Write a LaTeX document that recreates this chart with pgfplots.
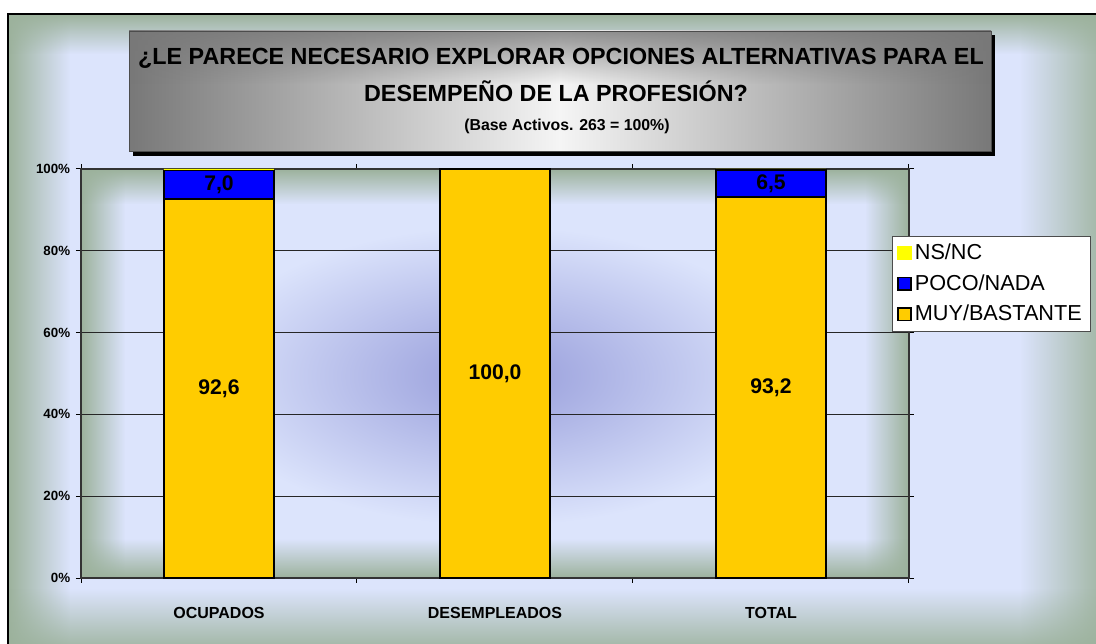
\documentclass[border=0pt]{standalone}
\usepackage{pgfplots}
\pgfplotsset{compat=1.18}
\usepackage{fontspec}
\setmainfont{Liberation Sans}
\usetikzlibrary{fadings}

\definecolor{bgblue}{RGB}{220,228,252}
\definecolor{edgegreen}{RGB}{156,178,156}
\definecolor{cblue}{RGB}{150,156,218}
\definecolor{myyellow}{RGB}{255,204,0}
\definecolor{nsnc}{RGB}{255,255,0}
\definecolor{tgray}{RGB}{120,120,120}

\begin{document}
\begin{tikzpicture}[x=0.6pt,y=0.6pt]
\path[use as bounding box] (0,0) rectangle (1096,644);
% ---------- outer panel ----------
\begin{scope}
\clip (0,0) rectangle (1096,644);
\fill[bgblue] (8,-10) rectangle (1110,630);
\fill[edgegreen, path fading=east] (8,-10) rectangle (70,630);
\fill[edgegreen, path fading=west] (1020,-10) rectangle (1110,630);
\fill[edgegreen, path fading=south] (8,590) rectangle (1110,630);
\fill[edgegreen, path fading=north] (8,-10) rectangle (1110,55);
\draw[black, line width=1.2pt] (8,-10) rectangle (1110,630);
\end{scope}
% ---------- title box ----------
\fill[black] (133,488) rectangle (995,609);
\shade[left color=tgray, right color=tgray, middle color=white!92!gray] (129,493) rectangle (991,613);
\fill[tgray, path fading=south, opacity=0.8] (129,560) rectangle (991,613);
\draw[black!70, line width=0.5pt] (129,493) rectangle (991,613);
\node[anchor=base, font=\bfseries\fontsize{14}{16}\selectfont] at (561,579) {¿LE PARECE NECESARIO EXPLORAR OPCIONES ALTERNATIVAS PARA EL};
\node[anchor=base, font=\bfseries\fontsize{14}{16}\selectfont] at (556,542) {DESEMPEÑO DE LA PROFESIÓN?};
\node[anchor=base, font=\bfseries\fontsize{9.5}{11}\selectfont] at (567,513) {(Base Activos. 263 = 100\%)};
% ---------- plot area background ----------
\begin{scope}
\clip (81,66) rectangle (909,475);
\fill[bgblue] (81,66) rectangle (909,475);
\shade[inner color=cblue, outer color=bgblue] (497,268) ellipse (300 and 150);
\fill[edgegreen, path fading=east] (81,66) rectangle (125,475);
\fill[edgegreen, path fading=west] (865,66) rectangle (909,475);
\fill[edgegreen, path fading=south] (81,440) rectangle (909,475);
\fill[edgegreen, path fading=north] (81,66) rectangle (909,105);
\end{scope}

\begin{axis}[
  at={(48.6pt,39.6pt)}, anchor=south west,
  scale only axis, width=496.8pt, height=245.4pt,
  xmin=-0.5, xmax=2.5, ymin=0, ymax=100,
  ybar stacked, bar width=66pt,
  axis background/.style={fill=none},
  axis line style={draw=black!80, line width=0.8pt},
  xtick={-0.5,0.5,1.5,2.5}, xticklabels={},
  extra x ticks={0,1,2},
  extra x tick labels={OCUPADOS,DESEMPLEADOS,TOTAL},
  extra x tick style={major tick length=0pt, tick label style={yshift=-14pt}},
  x tick label style={font=\bfseries\fontsize{9.6}{11}\selectfont},
  ytick={0,20,40,60,80,100},
  yticklabels={0\%,20\%,40\%,60\%,80\%,100\%},
  y tick label style={font=\bfseries\fontsize{8}{9}\selectfont},
  tick align=outside, major tick length=3pt,
  tick style={black, line width=0.6pt},
  ymajorgrids, grid style={black!85, line width=0.6pt},
  reverse legend,
  legend style={at={(0.9795,0.8362)}, anchor=north west, draw=black!70, fill=white,
    font=\fontsize{13}{15}\selectfont, legend cell align=left,
    inner xsep=3pt, inner ysep=3.5pt, row sep=5.5pt,
    nodes={inner xsep=2pt, inner ysep=1pt}},
  legend image code/.code={\draw[#1, line width=0.9pt] (0pt,-3.8pt) rectangle (7.6pt,3.8pt);},
]
\addplot[fill=myyellow, draw=black, line width=1pt] coordinates {(0,92.6) (1,100.0) (2,93.2)};
\addlegendentry{MUY/BASTANTE}
\addplot[fill=blue, draw=black, line width=1pt] coordinates {(0,7.0) (1,0) (2,6.5)};
\addlegendentry{POCO/NADA}
\addplot[fill=nsnc, draw=none,
  legend image code/.code={\fill[nsnc] (-0.45pt,-4.25pt) rectangle (8.05pt,4.25pt);}]
  coordinates {(0,0.4) (1,0) (2,0.3)};
\addlegendentry{NS/NC}
\end{axis}
% ---------- value labels (overlay axis, same geometry) ----------
\begin{axis}[
  at={(48.6pt,39.6pt)}, anchor=south west,
  scale only axis, width=496.8pt, height=245.4pt,
  xmin=-0.5, xmax=2.5, ymin=0, ymax=100,
  hide axis, clip=false,
]
\node[font=\bfseries\fontsize{12.7}{15}\selectfont] at (axis cs:0,46.3) {92,6};
\node[font=\bfseries\fontsize{12.7}{15}\selectfont] at (axis cs:0,96.1) {7,0};
\node[font=\bfseries\fontsize{12.7}{15}\selectfont] at (axis cs:1,50) {100,0};
\node[font=\bfseries\fontsize{12.7}{15}\selectfont] at (axis cs:2,46.6) {93,2};
\node[font=\bfseries\fontsize{12.7}{15}\selectfont] at (axis cs:2,96.45) {6,5};
\end{axis}
\end{tikzpicture}
\end{document}
